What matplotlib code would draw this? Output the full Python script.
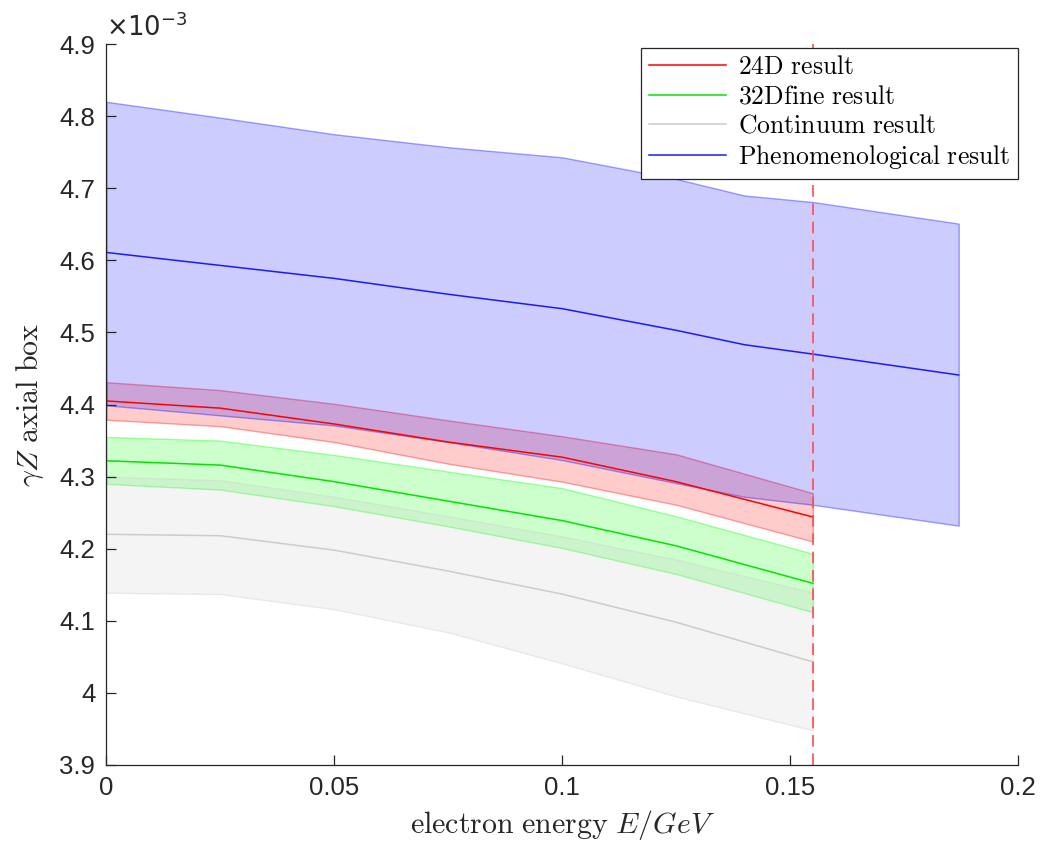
import matplotlib
matplotlib.use('Agg')
import matplotlib.pyplot as plt
from matplotlib.ticker import FuncFormatter

plt.rcParams['mathtext.fontset'] = 'cm'
plt.rcParams['font.family'] = ['Liberation Sans', 'DejaVu Sans']

# electron energy grid (GeV)
E_lat = [0, 0.025, 0.05, 0.075, 0.1, 0.125, 0.155]
E_phen = [0, 0.025, 0.05, 0.075, 0.1, 0.125, 0.14, 0.155, 0.187]
E_cut = 0.155

# gamma-Z axial box, in units of 1e-3
box_24d = [4.405, 4.395, 4.373, 4.348, 4.327, 4.293, 4.244]
box_24d_lo = [4.379, 4.370, 4.348, 4.318, 4.293, 4.261, 4.210]
box_24d_hi = [4.431, 4.420, 4.401, 4.378, 4.356, 4.331, 4.277]

box_32f = [4.322, 4.316, 4.293, 4.266, 4.239, 4.204, 4.152]
box_32f_lo = [4.290, 4.282, 4.259, 4.231, 4.201, 4.165, 4.112]
box_32f_hi = [4.355, 4.350, 4.330, 4.307, 4.284, 4.245, 4.193]

box_cont = [4.220, 4.218, 4.198, 4.169, 4.137, 4.098, 4.043]
box_cont_lo = [4.139, 4.137, 4.116, 4.084, 4.041, 3.995, 3.948]
box_cont_hi = [4.300, 4.295, 4.272, 4.245, 4.217, 4.185, 4.139]

box_phen = [4.611, 4.593, 4.575, 4.553, 4.533, 4.503, 4.483, 4.470, 4.441]
box_phen_lo = [4.399, 4.385, 4.371, 4.348, 4.323, 4.291, 4.272, 4.261, 4.232]
box_phen_hi = [4.820, 4.798, 4.775, 4.757, 4.743, 4.713, 4.690, 4.681, 4.651]

fig = plt.figure(figsize=(10.43, 8.49), dpi=100)
ax = fig.add_axes([0.102, 0.099, 0.874, 0.849])

def band(x, lo, hi, mid, col, line_col, label):
    ax.fill_between(x, lo, hi, facecolor=col + (0.2,), edgecolor=col + (0.35,),
                    linewidth=1.0)
    ax.plot(x, mid, color=line_col, linewidth=1.1, label=label)

band(E_lat, box_24d_lo, box_24d_hi, box_24d, (1.0, 0.0, 0.0), (1.0, 0.0, 0.0), '24D result')
band(E_lat, box_32f_lo, box_32f_hi, box_32f, (0.0, 1.0, 0.0), (0.0, 0.9, 0.0), '32Dfine result')
band(E_lat, box_cont_lo, box_cont_hi, box_cont, (0.8, 0.8, 0.8), (0.8, 0.8, 0.8), 'Continuum result')
band(E_phen, box_phen_lo, box_phen_hi, box_phen, (0.0, 0.0, 1.0), (0.1, 0.1, 1.0), 'Phenomenological result')

ax.axvline(E_cut, color=(1.0, 0.3, 0.3), linewidth=1.2, dashes=(7, 4))

ax.set_xlim(0, 0.2)
ax.set_ylim(3.9, 4.9)
ax.set_xticks([0, 0.05, 0.1, 0.15, 0.2])
ax.set_yticks([3.9, 4.0, 4.1, 4.2, 4.3, 4.4, 4.5, 4.6, 4.7, 4.8, 4.9])
fmt = FuncFormatter(lambda v, p: '%g' % round(v, 3))
ax.xaxis.set_major_formatter(fmt)
ax.yaxis.set_major_formatter(fmt)

for s in ['top', 'right']:
    ax.spines[s].set_visible(False)
for s in ['left', 'bottom']:
    ax.spines[s].set_color('#262626')
    ax.spines[s].set_linewidth(0.9)
ax.tick_params(direction='in', length=7, width=0.9, colors='#262626',
               labelsize=18.5, pad=8)

ax.set_xlabel(r'$\mathrm{electron\ energy}\ E/GeV$', fontsize=21.5, color='#262626',
              labelpad=6)
ax.set_ylabel(r'$\gamma Z\ \mathrm{axial\ box}$', fontsize=21.5, color='#262626',
              labelpad=10)
ax.text(0.0, 1.004, r'$\times10^{-3}$', transform=ax.transAxes, fontsize=18.5,
        color='#262626', ha='left', va='bottom', math_fontfamily='dejavusans')

handles, labels = ax.get_legend_handles_labels()
labels = [r'$\mathrm{%s}$' % l.replace(' ', r'\ ') for l in labels]
leg = ax.legend(handles, labels, loc='upper right', bbox_to_anchor=(1.0, 0.995),
                fontsize=18.5, handlelength=3.0, handletextpad=0.45,
                labelspacing=0.2, borderpad=0.3, fancybox=False,
                framealpha=1.0, edgecolor='#262626', borderaxespad=0.0)
leg.get_frame().set_linewidth(0.9)

fig.savefig('out.png', dpi=100)
